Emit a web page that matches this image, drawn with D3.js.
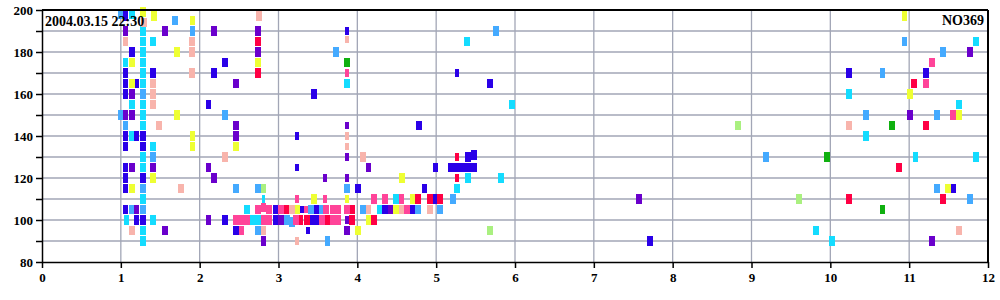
<!DOCTYPE html>
<html>
<head>
<meta charset="utf-8">
<script src="https://cdn.jsdelivr.net/npm/d3@7"></script>
<style>
  body { margin: 0; background: #fff; }
  svg { display: block; }
  .tick text { font-family: "Liberation Serif", "Times New Roman", serif; font-weight: bold; font-size: 13px; fill: #000; }
</style>
</head>
<body>
<div id="chart"></div>
<script>
// axis ticks
var xTicks = [0, 1, 2, 3, 4, 5, 6, 7, 8, 9, 10, 11, 12];
var yTicks = [80, 90, 100, 110, 120, 130, 140, 150, 160, 170, 180, 190, 200];
var yLabels = [80, 100, 120, 140, 160, 180, 200];
var stamp = "2004.03.15 22:30";
var station = "NO369";

// marks per colour: [x, y] and [x, y, 1] for the small ones
var cyanMarks = [
  [1.14, 198], [1.07, 100], [1.06, 175], [1.145, 155], [1.145, 140],
  [1.285, 190], [1.285, 185], [1.285, 180], [1.285, 175], [1.285, 170], [1.285, 165],
  [1.285, 155], [1.285, 150], [1.285, 145], [1.285, 130], [1.285, 125], [1.285, 110],
  [1.285, 95], [1.285, 90], [1.41, 185], [1.41, 135], [1.41, 100],
  [2.60, 105], [2.67, 100], [2.74, 100], [2.81, 110, 1], [3.87, 165],
  [4.28, 105], [4.49, 110], [5.40, 120], [5.26, 115], [5.82, 120], [5.96, 155], [5.39, 185],
  [9.82, 95], [10.02, 90], [10.24, 160], [10.45, 140], [11.08, 130], [11.85, 130],
  [11.85, 185], [11.63, 155]
];
var lightBlueMarks = [
  [1.00, 198], [1.00, 150], [1.06, 145], [1.145, 105], [1.285, 160], [1.285, 115],
  [1.285, 105], [1.41, 130], [1.69, 195], [1.91, 190], [2.32, 150], [2.46, 115],
  [2.74, 115], [2.74, 95], [3.11, 100], [3.17, 99], [3.41, 105], [3.54, 105], [3.62, 90],
  [3.73, 180], [3.87, 115], [4.07, 105], [4.77, 105], [5.05, 105], [5.21, 110],
  [5.76, 190], [9.18, 130], [10.45, 150], [10.66, 170], [10.94, 185], [11.35, 150],
  [11.35, 115], [11.43, 180], [11.77, 110]
];
var blueMarks = [
  [1.06, 197], [1.06, 170], [1.06, 165], [1.06, 160], [1.06, 140], [1.06, 135],
  [1.06, 125], [1.06, 120], [1.06, 115], [1.06, 105], [1.145, 180], [1.20, 165],
  [1.20, 140], [1.20, 100], [1.285, 140], [1.285, 135], [1.285, 120], [1.285, 100],
  [1.41, 170], [2.11, 155], [2.18, 170], [2.32, 175], [2.32, 100], [2.46, 95],
  [2.96, 100], [2.96, 105], [3.30, 105, 1], [3.38, 95, 1], [3.23, 140, 1], [3.23, 125, 1],
  [3.87, 190, 1], [3.45, 160], [3.48, 105], [3.42, 100], [3.49, 100], [4.01, 115],
  [4.35, 105], [4.70, 105], [4.78, 145], [4.85, 115], [4.99, 125], [4.99, 110],
  [5.19, 125], [5.26, 125], [5.33, 125], [5.40, 125], [5.48, 125], [5.40, 130], [5.48, 131],
  [5.27, 170, 1], [5.68, 165], [7.71, 90], [10.24, 170], [11.21, 170], [11.56, 115]
];
var purpleMarks = [
  [1.06, 190], [1.06, 150], [1.145, 160], [1.145, 150], [1.145, 125], [1.20, 105],
  [1.41, 125], [1.56, 190], [1.56, 95], [2.18, 190], [2.11, 125], [2.18, 120],
  [2.11, 100], [2.46, 165], [2.46, 145], [2.46, 140], [2.74, 190], [2.74, 180],
  [2.81, 90], [3.03, 100], [3.87, 145, 1], [3.87, 130, 1], [3.59, 120, 1], [3.87, 120, 1],
  [3.87, 100, 1], [3.87, 95], [4.14, 125], [4.42, 105], [7.57, 110], [11.01, 150],
  [11.29, 90], [11.77, 180]
];
var salmonMarks = [
  [1.06, 185], [1.145, 95], [1.29, 194], [1.41, 165], [1.41, 160], [1.41, 155],
  [1.48, 145], [1.76, 115], [1.90, 185], [1.90, 180], [1.90, 170], [2.32, 130],
  [2.75, 197], [2.81, 95], [3.17, 105], [3.23, 90, 1], [3.87, 186, 1], [3.87, 140, 1],
  [3.87, 135, 1], [4.07, 130], [4.14, 105], [4.56, 105], [4.92, 105], [10.24, 145],
  [11.63, 95]
];
var yellowMarks = [
  [1.145, 175], [1.145, 165], [1.145, 115], [1.28, 199], [1.42, 197], [1.41, 120],
  [1.71, 180], [1.71, 150], [1.91, 195], [1.91, 140], [1.91, 135], [2.46, 135],
  [2.74, 175], [3.24, 105], [3.45, 110], [3.87, 110, 1], [4.01, 95], [4.14, 100],
  [4.49, 105], [4.57, 120], [4.70, 110], [10.94, 197], [11.01, 160], [11.63, 150],
  [11.49, 115]
];
var redMarks = [
  [2.74, 185], [2.74, 170], [3.10, 105], [3.28, 100], [3.36, 100], [3.62, 100],
  [3.93, 100], [3.93, 105], [4.21, 100], [4.77, 110], [4.92, 110], [5.05, 110],
  [5.26, 130, 1], [5.26, 120, 1], [10.24, 110], [10.87, 125], [11.06, 165],
  [11.21, 145], [11.43, 110]
];
var pinkMarks = [
  [2.46, 100], [2.53, 100], [2.60, 100], [2.81, 100], [2.88, 100], [3.22, 100],
  [3.55, 100], [3.69, 100], [3.76, 100], [2.74, 105], [2.81, 106], [2.88, 105],
  [3.03, 105], [3.35, 105, 1], [3.60, 105], [3.69, 105], [3.76, 105], [3.87, 105],
  [3.23, 110, 1], [3.59, 110, 1], [4.21, 110], [4.35, 110], [4.56, 110], [2.53, 95],
  [3.87, 170, 1], [4.63, 105], [11.29, 175], [11.21, 165], [11.56, 150]
];
var greenMarks = [[3.87, 175], [9.96, 130], [10.66, 105], [10.78, 145]];
var lightGreenMarks = [[2.81, 115], [5.68, 95], [8.83, 145], [9.60, 110]];

var series = [
  { marks: cyanMarks, color: "#14dcff" },
  { marks: lightBlueMarks, color: "#44aaff" },
  { marks: blueMarks, color: "#2a00e8" },
  { marks: purpleMarks, color: "#6a00cc" },
  { marks: salmonMarks, color: "#f8b4ac" },
  { marks: yellowMarks, color: "#eeff33" },
  { marks: redMarks, color: "#ff0044" },
  { marks: pinkMarks, color: "#ff4499" },
  { marks: greenMarks, color: "#10b010" },
  { marks: lightGreenMarks, color: "#aaf080" }
];

var svgWidth = 1000;
var svgHeight = 300;
var margin = { top: 10, right: 12, bottom: 38, left: 42 };
var width = svgWidth - margin.left - margin.right;
var height = svgHeight - margin.top - margin.bottom;

var svg = d3.select("#chart")
  .append("svg")
  .attr("width", svgWidth)
  .attr("height", svgHeight);

var chartGroup = svg.append("g")
  .attr("transform", `translate(${margin.left}, ${margin.top})`);

var xScale = d3.scaleLinear().domain([0, 12]).range([0, width]);
var yScale = d3.scaleLinear().domain([80, 200]).range([height, 0]);

// grid
chartGroup.selectAll(".hgrid")
  .data(yTicks.filter(d => d > 80 && d < 200))
  .enter()
  .append("line")
  .attr("x1", 0).attr("x2", width)
  .attr("y1", d => yScale(d)).attr("y2", d => yScale(d))
  .attr("stroke", "#a2a6b6")
  .attr("stroke-width", 1.3);

chartGroup.selectAll(".vgrid")
  .data(xTicks.filter(d => d > 0 && d < 12))
  .enter()
  .append("line")
  .attr("x1", d => xScale(d)).attr("x2", d => xScale(d))
  .attr("y1", 0).attr("y2", height)
  .attr("stroke", "#a2a6b6")
  .attr("stroke-width", 1.3);

// marks
var barW = 0.072, barH = 4.65;
var smallW = 0.05, smallH = 3.4;
series.forEach(function (s) {
  chartGroup.append("g").selectAll("rect")
    .data(s.marks)
    .enter()
    .append("rect")
    .attr("x", d => xScale(d[0] - (d[2] ? smallW : barW) / 2))
    .attr("y", d => yScale(d[1] + (d[2] ? smallH : barH) / 2))
    .attr("width", d => xScale(d[2] ? smallW : barW) - xScale(0))
    .attr("height", d => yScale(80) - yScale(80 + (d[2] ? smallH : barH)))
    .attr("fill", s.color)
    .attr("shape-rendering", "crispEdges");
});

// frame
chartGroup.append("line")
  .attr("x1", 0).attr("x2", width).attr("y1", 0).attr("y2", 0)
  .attr("stroke", "#000").attr("stroke-width", 2);
chartGroup.append("line")
  .attr("x1", width).attr("x2", width).attr("y1", 0).attr("y2", height)
  .attr("stroke", "#000").attr("stroke-width", 2);

// axes
var bottomAxis = d3.axisBottom(xScale).tickValues(xTicks).tickSize(6).tickSizeOuter(0).tickFormat(d3.format("d"));
var leftAxis = d3.axisLeft(yScale).tickValues(yTicks).tickSize(6).tickSizeOuter(0)
  .tickFormat(d => yLabels.includes(d) ? d : "");

var xAxisG = chartGroup.append("g")
  .attr("transform", `translate(0, ${height})`)
  .call(bottomAxis);
xAxisG.select(".domain").attr("stroke-width", 1.5);
xAxisG.selectAll(".tick line").attr("stroke-width", 1.5);
xAxisG.selectAll(".tick text").attr("y", 11);

var yAxisG = chartGroup.append("g").call(leftAxis);
yAxisG.select(".domain").attr("stroke-width", 1.5);
yAxisG.selectAll(".tick line").attr("stroke-width", 1.5);
yAxisG.selectAll(".tick text").attr("x", -9);

// labels
chartGroup.append("text")
  .attr("x", 3).attr("y", 16)
  .attr("font-family", "Liberation Serif, serif")
  .attr("font-weight", "bold")
  .attr("font-size", 14)
  .text(stamp);

chartGroup.append("text")
  .attr("x", width - 4).attr("y", 15)
  .attr("text-anchor", "end")
  .attr("font-family", "Liberation Serif, serif")
  .attr("font-weight", "bold")
  .attr("font-size", 14)
  .text(station);
</script>
</body>
</html>
